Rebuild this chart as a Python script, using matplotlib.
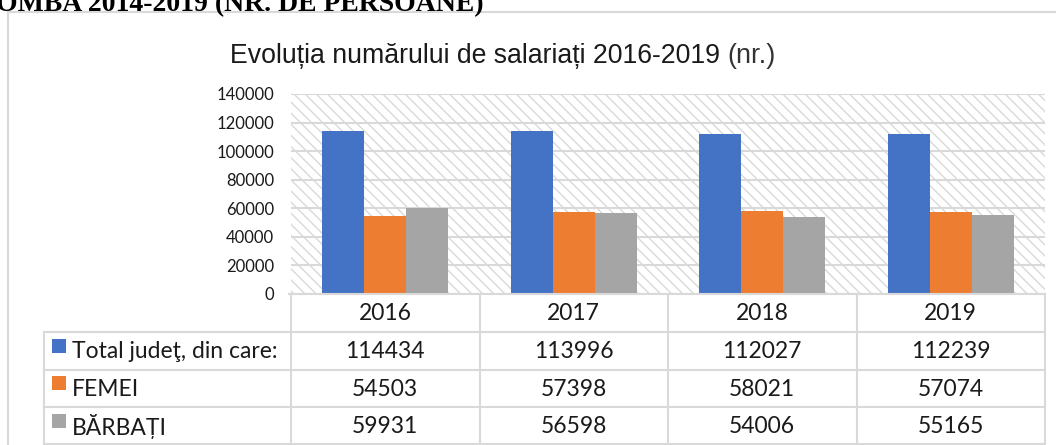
import matplotlib
matplotlib.use("Agg")
import matplotlib.pyplot as plt
from matplotlib.patches import Rectangle
from matplotlib.lines import Line2D
import matplotlib.transforms as mtransforms

# ---- data ----
years = ["2016", "2017", "2018", "2019"]
series_names = ["Total judeţ, din care:", "FEMEI", "BĂRBAȚI"]
total = [114434, 113996, 112027, 112239]
femei = [54503, 57398, 58021, 57074]
barbati = [59931, 56598, 54006, 55165]
yticks = [0, 20000, 40000, 60000, 80000, 100000, 120000, 140000]
colors = ["#4472C4", "#ED7D31", "#A5A5A5"]
values = [total, femei, barbati]

W, H = 1056, 445
plt.rcParams['hatch.linewidth'] = 1.0
fig = plt.figure(figsize=(W / 100, H / 100), dpi=100)

def fx(px):
    return px / W

def fy(py):
    return 1 - py / H

GRID = "#d9d9d9"
TXT = "#1a1a1a"
TFONT = ["Lato", "DejaVu Sans"]

# frame of the chart object
fig.add_artist(Line2D([fx(8), fx(8)], [fy(12), fy(450)], color=GRID, lw=1.5))
fig.add_artist(Line2D([fx(8), fx(1060)], [fy(12), fy(12)], color=GRID, lw=1.5))

# cut-off heading on top
fig.text(fx(-4), fy(11), "OMBA 2014-2019 (NR. DE PERSOANE)", family="Liberation Serif",
         fontweight="bold", fontsize=20, ha="left", va="baseline", color="black")

# chart title
t1 = fig.text(fx(230), fy(63), "Evoluția numărului de salariați 2016-2019 ",
              family=["Liberation Sans", "DejaVu Sans"],
              fontsize=19.2, ha="left", va="baseline", color=TXT)
fig.canvas.draw()
bb = t1.get_window_extent()
fig.text(bb.x1 / W, fy(63), "(nr.)", family=["Liberation Sans", "DejaVu Sans"],
         fontsize=19.5, ha="left", va="baseline", color="#333333")

# ---- plot area ----
L, R, T, B = 291, 1045, 94, 294
ax = fig.add_axes([fx(L), fy(B), fx(R) - fx(L), fy(T) - fy(B)])
ax.set_xlim(-0.5, len(years) - 0.5)
ax.set_ylim(0, 140000)
ax.add_patch(Rectangle((0, 0), 1, 1, transform=ax.transAxes, facecolor="white",
                       edgecolor="#d9d9d9", hatch="\\\\\\", lw=0, zorder=0))
for yv in yticks:
    ax.axhline(yv, color=GRID, lw=1.5, zorder=1)

bw = 0.222
x = list(range(len(years)))
for i, (vals, c) in enumerate(zip(values, colors)):
    ax.bar([xi + (i - 1) * bw for xi in x], vals, width=bw, color=c, zorder=2, linewidth=0)

ax.set_yticks(yticks)
ax.set_yticklabels([str(v) for v in yticks], family=TFONT, fontsize=12, color=TXT)
ax.set_xticks([])
ax.tick_params(axis="y", length=0, pad=12)
for s in ax.spines.values():
    s.set_visible(False)

# ---- data table ----
trans = mtransforms.blended_transform_factory(ax.transData, fig.transFigure)
row_y = [294, 332, 369.5, 407, 444]
LEFT = 44
TS = 16.5
fig.add_artist(Line2D([fx(L - 2), fx(R)], [fy(row_y[0]), fy(row_y[0])], color=GRID, lw=1.5))
for ry in row_y[1:]:
    fig.add_artist(Line2D([fx(LEFT), fx(R)], [fy(ry), fy(ry)], color=GRID, lw=1.5))
fig.add_artist(Line2D([fx(LEFT), fx(LEFT)], [fy(row_y[1]), fy(row_y[-1])], color=GRID, lw=1.5))
for xb in [-0.5 + k for k in range(len(years) + 1)]:
    fig.add_artist(Line2D([xb, xb], [fy(row_y[0]), fy(row_y[-1])], color=GRID, lw=1.5,
                          transform=trans))

def row_mid(r):
    return fy((row_y[r] + row_y[r + 1]) / 2 + 1)

for j, yr in enumerate(years):
    fig.text(j, row_mid(0), yr, transform=trans, family=TFONT, fontsize=TS, ha="center",
             va="center", color=TXT)
for i, (name, vals, c) in enumerate(zip(series_names, values, colors)):
    ym = row_mid(i + 1)
    fig.add_artist(Rectangle((fx(52), ym - 1 / H), 14 / W, 14 / H, facecolor=c, lw=0))
    fig.text(fx(72), ym, name, family=TFONT, fontsize=TS, ha="left", va="center", color=TXT)
    for j, v in enumerate(vals):
        fig.text(j, ym, str(v), transform=trans, family=TFONT, fontsize=TS, ha="center",
                 va="center", color=TXT)

fig.savefig("out.png", dpi=100)
